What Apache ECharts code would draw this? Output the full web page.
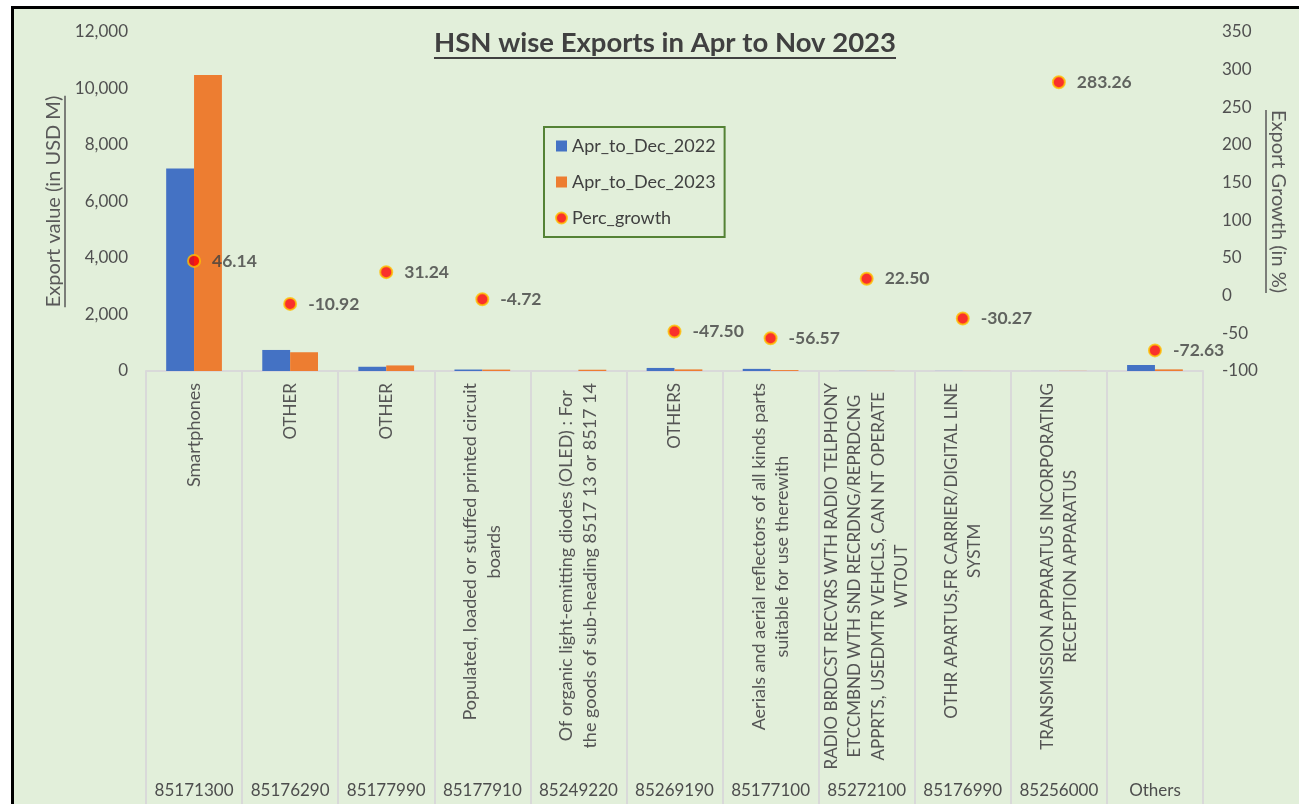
<!DOCTYPE html>
<html>
<head>
<meta charset="utf-8">
<title>HSN wise Exports</title>
<script src="https://cdn.jsdelivr.net/npm/echarts@6/dist/echarts.min.js"></script>
<style>
  html, body { margin: 0; padding: 0; background: #ffffff; overflow: hidden; }
  #chart {
    position: absolute;
    left: 11px;
    top: 6px;
    width: 1290px;
    height: 800px;
    border: 3px solid #000000;
    background: #E2EFDA;
  }
</style>
</head>
<body>
<div id="chart"></div>
<script>
// categories: description (upper label row) and HSN code (lower row)
const descriptions = [
  'Smartphones',
  'OTHER',
  'OTHER',
  'Populated, loaded or stuffed printed circuit\nboards',
  'Of organic light-emitting diodes (OLED) : For\nthe goods of sub-heading 8517 13 or 8517 14',
  'OTHERS',
  'Aerials and aerial reflectors of all kinds parts\nsuitable for use therewith',
  'RADIO BRDCST RECVRS WTH RADIO TELPHONY\nETCCMBND WTH SND RECRDNG/REPRDCNG\nAPPRTS, USEDMTR VEHCLS, CAN NT OPERATE\nWTOUT',
  'OTHR APARTUS,FR CARRIER/DIGITAL LINE\nSYSTM',
  'TRANSMISSION APPARATUS INCORPORATING\nRECEPTION APPARATUS',
  ''
];
const hsnCodes = ['85171300', '85176290', '85177990', '85177910', '85249220', '85269190',
  '85177100', '85272100', '85176990', '85256000', 'Others'];

// export values in USD M
const apr2022 = [7170, 745, 150, 52, 0, 108, 75, 4, 3, 1.2, 212];
const apr2023 = [10478, 664, 197, 49.5, 45, 57, 33, 4.9, 2.1, 4.6, 58];
// growth in %
const percGrowth = [46.14, -10.92, 31.24, -4.72, null, -47.50, -56.57, 22.50, -30.27, 283.26, -72.63];

const titleText = 'HSN wise Exports in Apr to Nov 2023';
const leftName = 'Export value (in USD M)';
const rightName = 'Export Growth (in %)';

const FONT = 'Lato, "Open Sans", sans-serif';
const ctx = document.createElement('canvas').getContext('2d');
function textWidth(t, font) { ctx.font = font; return ctx.measureText(t).width; }

const titleFont = 'bold 27.5px Lato';
const nameFont = '20px Lato';
const titleW = textWidth(titleText, titleFont);
const leftW = textWidth(leftName, nameFont);
const rightW = textWidth(rightName, nameFont);

const titleX = 651;
const midY = 23 + 339 / 2;

const chart = echarts.init(document.getElementById('chart'));

const option = {
  backgroundColor: '#E2EFDA',
  animation: false,
  textStyle: { fontFamily: FONT },
  grid: { left: 132, top: 23, width: 1057, height: 339 },
  legend: {
    orient: 'vertical',
    left: 530,
    top: 118,
    padding: [10, 9, 10, 11],
    itemGap: 18,
    itemWidth: 11,
    itemHeight: 11,
    borderColor: '#548235',
    borderWidth: 2,
    textStyle: { fontSize: 18, color: '#404040', fontFamily: FONT },
    data: [
      { name: 'Apr_to_Dec_2022', icon: 'rect' },
      { name: 'Apr_to_Dec_2023', icon: 'rect' },
      { name: 'Perc_growth', icon: 'circle' }
    ]
  },
  xAxis: [
    {
      type: 'category',
      data: descriptions,
      axisLine: { lineStyle: { color: '#D9D9D9', width: 2 } },
      axisTick: { show: true, interval: 0, length: 433, lineStyle: { color: '#D9D9D9', width: 2 } },
      axisLabel: {
        interval: 0,
        rotate: 90,
        margin: 12,
        formatter: function (v) {
          if (!v) return '';
          // all-caps descriptions use the slightly smaller style
          const key = v === v.toUpperCase() ? 'u' : 'c';
          return v.split('\n').map(function (l) { return '{' + key + '|' + l + '}'; }).join('\n');
        },
        rich: {
          c: { align: 'center', fontSize: 18, lineHeight: 23.5, color: '#555555', fontFamily: FONT },
          u: { align: 'center', fontSize: 17, lineHeight: 23.5, color: '#555555', fontFamily: FONT }
        }
      }
    },
    {
      type: 'category',
      data: hsnCodes,
      position: 'bottom',
      offset: 403,
      axisLine: { show: false },
      axisTick: { show: false },
      axisLabel: { interval: 0, margin: 8, fontSize: 17, color: '#4d4d4d', fontFamily: FONT }
    }
  ],
  yAxis: [
    {
      type: 'value',
      min: 0,
      max: 12000,
      interval: 2000,
      axisLine: { show: false },
      axisTick: { show: false },
      splitLine: { show: false },
      axisLabel: {
        margin: 18,
        fontSize: 17,
        color: '#505050',
        formatter: function (v) { return v.toLocaleString('en-US'); }
      },
      name: leftName,
      nameLocation: 'middle',
      nameRotate: 90,
      nameGap: 80,
      nameTextStyle: { fontSize: 20, color: '#595959', fontFamily: FONT }
    },
    {
      type: 'value',
      min: -100,
      max: 350,
      interval: 50,
      position: 'right',
      axisLine: { show: false },
      axisTick: { show: false },
      splitLine: { show: false },
      axisLabel: { margin: 19, fontSize: 17, color: '#505050' },
      name: rightName,
      nameLocation: 'middle',
      nameRotate: -90,
      nameGap: 63,
      nameTextStyle: { fontSize: 20, color: '#595959', fontFamily: FONT }
    }
  ],
  series: [
    {
      name: 'Apr_to_Dec_2022',
      type: 'bar',
      data: apr2022,
      barGap: '0%',
      barCategoryGap: '42%',
      itemStyle: { color: '#4472C4' }
    },
    {
      name: 'Apr_to_Dec_2023',
      type: 'bar',
      data: apr2023,
      itemStyle: { color: '#ED7D31' }
    },
    {
      name: 'Perc_growth',
      type: 'scatter',
      yAxisIndex: 1,
      data: percGrowth,
      symbolSize: 12,
      itemStyle: { color: '#FF0000', borderColor: '#FFC000', borderWidth: 2 },
      label: {
        show: true,
        position: 'right',
        distance: 11,
        fontSize: 17.5,
        fontWeight: 'bold',
        color: '#404040',
        formatter: function (p) { return p.value.toFixed(2); }
      }
    }
  ],
  graphic: [
    {
      type: 'text',
      x: titleX,
      y: 20,
      style: {
        text: titleText, font: titleFont, fill: '#404040',
        align: 'center', textAlign: 'center', verticalAlign: 'top', textVerticalAlign: 'top'
      }
    },
    {
      type: 'line',
      shape: { x1: titleX - titleW / 2, y1: 49, x2: titleX + titleW / 2, y2: 49 },
      style: { stroke: '#404040', lineWidth: 2 }
    },
    {
      type: 'line',
      shape: { x1: 51, y1: midY - leftW / 2, x2: 51, y2: midY + leftW / 2 },
      style: { stroke: '#595959', lineWidth: 1.5 }
    },
    {
      type: 'line',
      shape: { x1: 1252, y1: midY - rightW / 2, x2: 1252, y2: midY + rightW / 2 },
      style: { stroke: '#595959', lineWidth: 1.5 }
    }
  ]
};

chart.setOption(option);
</script>
</body>
</html>
